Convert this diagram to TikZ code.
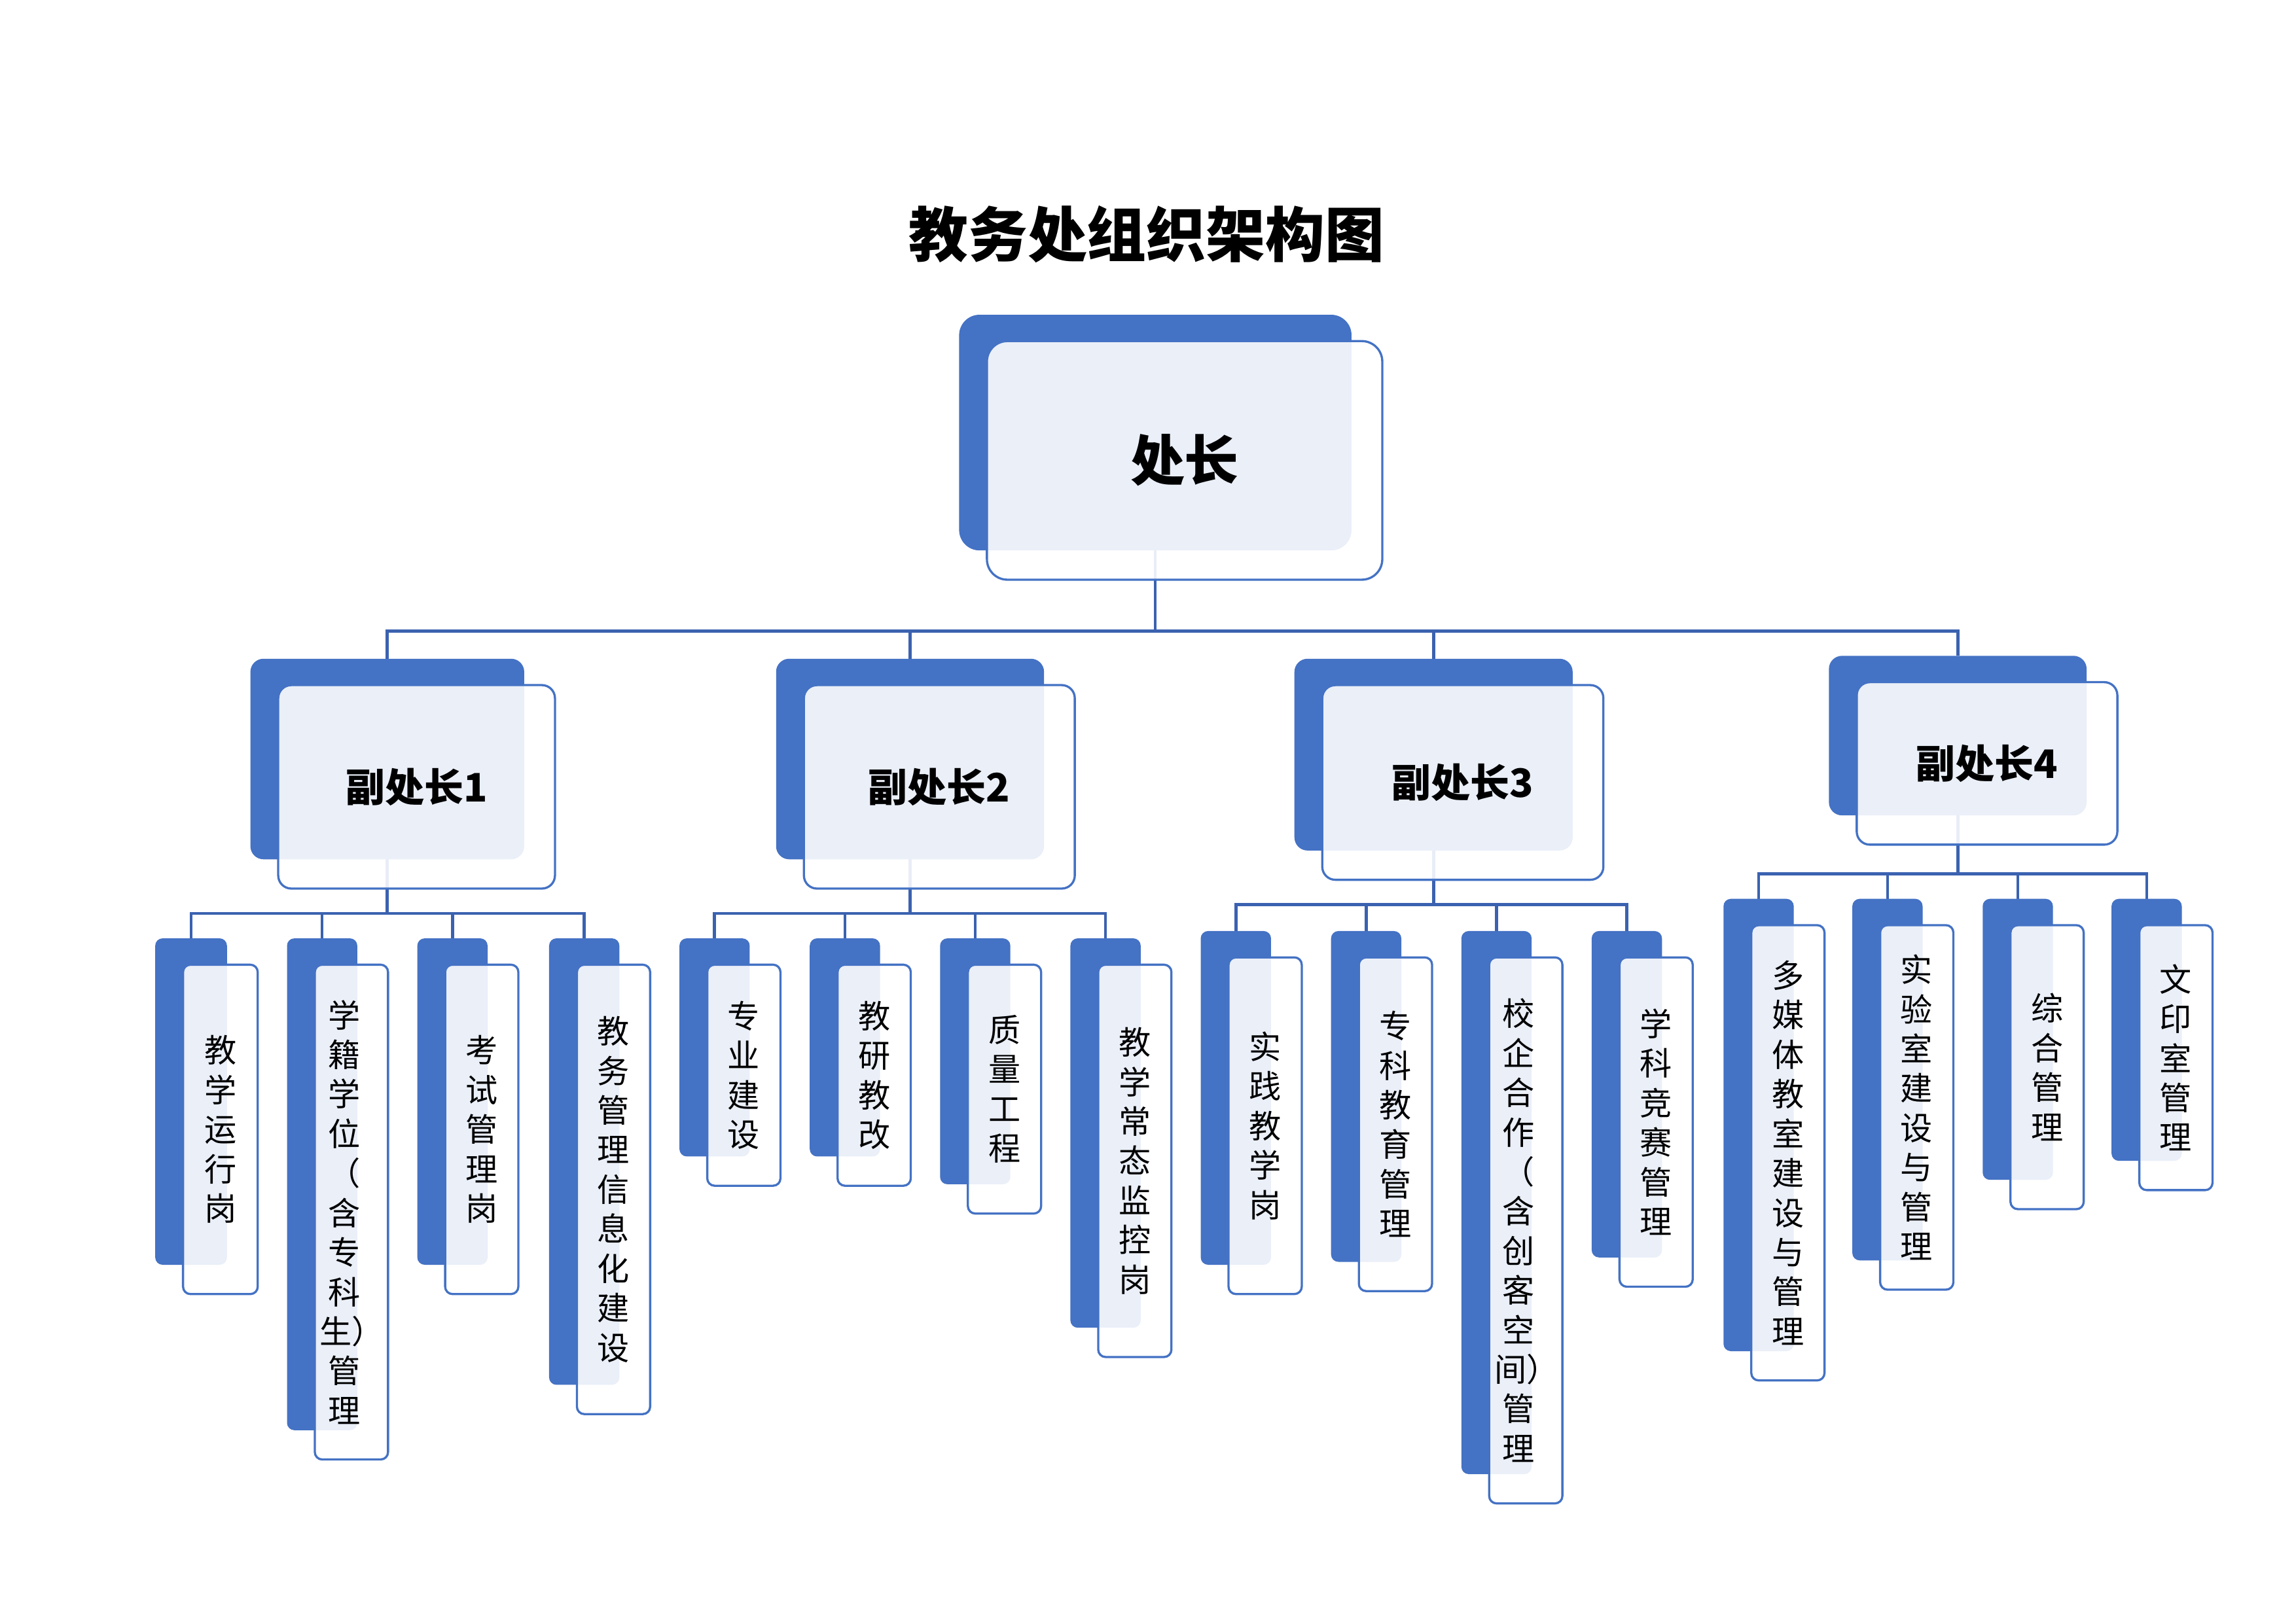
\documentclass[tikz,border=0pt]{standalone}
\usepackage{fontspec}
\newfontfamily\cjk{Noto Sans CJK SC}
\usetikzlibrary{fit}
\definecolor{boxblue}{RGB}{68,114,196}
\definecolor{linkblue}{RGB}{59,98,176}
\pgfdeclarelayer{back}
\pgfsetlayers{back,main}
\tikzset{
  bluebox/.style={fill=boxblue, draw=none, inner sep=0pt, outer sep=0pt},
  outbox/.style={fill=white, fill opacity=0.89, draw=boxblue, draw opacity=1, line width=0.8pt, inner sep=0pt, outer sep=0pt},
  conn/.style={draw=linkblue, line width=1.1pt},
  leaftext/.style={font=\cjk\fontsize{11.8}{14.5}\selectfont, align=center, inner sep=0pt, text=black},
  midtext/.style={font=\cjk\bfseries\fontsize{14.4}{17}\selectfont, inner sep=0pt, text=black},
  toptext/.style={font=\cjk\bfseries\fontsize{19.9}{23}\selectfont, inner sep=0pt, text=black},
  titletext/.style={font=\cjk\bfseries\fontsize{21.8}{26}\selectfont, inner sep=0pt, text=black}
}
% name, x1, y1, x2, y2 of the blue box, corner radius
\newcommand\orgbox[6]{%
  \node[bluebox, rounded corners=#6, fit={(#2,#3) (#4,#5)}] (#1b) {};
  \node[outbox, rounded corners=#6, fit={(#2+19,#3+18) (#4+21,#5+20)}] (#1) {};
}
\begin{document}
\begin{tikzpicture}[x=0.53697pt, y=-0.53697pt]
\useasboundingbox (0,0) rectangle (1568,1109);

\node[titletext] (title) at (783,160) {教务处组织架构图};

% top
\orgbox{top}{655}{215}{923}{376}{7.5pt}
\node[toptext] (topt) at (top.center) {处长};

% level 2
\orgbox{v1}{171}{450}{358}{587}{4.8pt}
\orgbox{v2}{530}{450}{713}{587}{4.8pt}
\orgbox{v3}{884}{450}{1074}{581}{4.8pt}
\orgbox{v4}{1249}{448}{1425}{557}{4.8pt}
\node[midtext] (v1t) at (v1.center) {副处长1};
\node[midtext] (v2t) at (v2.center) {副处长2};
\node[midtext] (v3t) at (v3.center) {副处长3};
\node[midtext] (v4t) at (v4.center) {副处长4};

% group 1
\orgbox{a1}{106}{641}{155}{864}{2.7pt}
\orgbox{a2}{196}{641}{244}{977}{2.7pt}
\orgbox{a3}{285}{641}{333}{864}{2.7pt}
\orgbox{a4}{375}{641}{423}{946}{2.7pt}
% group 2
\orgbox{b1}{464}{641}{512}{790}{2.7pt}
\orgbox{b2}{553}{641}{601}{790}{2.7pt}
\orgbox{b3}{642}{641}{690}{809}{2.7pt}
\orgbox{b4}{731}{641}{779}{907}{2.7pt}
% group 3
\orgbox{c1}{820}{636}{868}{864}{2.7pt}
\orgbox{c2}{909}{636}{957}{862}{2.7pt}
\orgbox{c3}{998}{636}{1046}{1007}{2.7pt}
\orgbox{c4}{1087}{636}{1135}{859}{2.7pt}
% group 4
\orgbox{d1}{1177}{614}{1225}{923}{2.7pt}
\orgbox{d2}{1265}{614}{1313}{861}{2.7pt}
\orgbox{d3}{1354}{614}{1402}{806}{2.7pt}
\orgbox{d4}{1442}{614}{1490}{793}{2.7pt}

\node[leaftext] (a1t) at (a1.center) {教\\学\\运\\行\\岗};
\node[leaftext] (a2t) at ([xshift=-2.7pt]a2.center) {学\\籍\\学\\位\\（\\含\\专\\科\\生\makebox[0.5em][l]{）}\\管\\理};
\node[leaftext] (a3t) at (a3.center) {考\\试\\管\\理\\岗};
\node[leaftext] (a4t) at (a4.center) {教\\务\\管\\理\\信\\息\\化\\建\\设};
\node[leaftext] (b1t) at (b1.center) {专\\业\\建\\设};
\node[leaftext] (b2t) at (b2.center) {教\\研\\教\\改};
\node[leaftext] (b3t) at (b3.center) {质\\量\\工\\程};
\node[leaftext] (b4t) at (b4.center) {教\\学\\常\\态\\监\\控\\岗};
\node[leaftext] (c1t) at (c1.center) {实\\践\\教\\学\\岗};
\node[leaftext] (c2t) at (c2.center) {专\\科\\教\\育\\管\\理};
\node[leaftext] (c3t) at ([xshift=-2.7pt]c3.center) {校\\企\\合\\作\\（\\含\\创\\客\\空\\间\makebox[0.5em][l]{）}\\管\\理};
\node[leaftext] (c4t) at (c4.center) {学\\科\\竞\\赛\\管\\理};
\node[leaftext] (d1t) at (d1.center) {多\\媒\\体\\教\\室\\建\\设\\与\\管\\理};
\node[leaftext] (d2t) at (d2.center) {实\\验\\室\\建\\设\\与\\管\\理};
\node[leaftext] (d3t) at (d3.center) {综\\合\\管\\理};
\node[leaftext] (d4t) at (d4.center) {文\\印\\室\\管\\理};

% bars
\coordinate (barT) at (0,431);
\coordinate (bar1) at (0,624);
\coordinate (bar2) at (0,624);
\coordinate (bar3) at (0,618);
\coordinate (bar4) at (0,597);

\begin{pgfonlayer}{back}
  \foreach \v in {v1,v2,v3,v4}
    \draw[conn] (topb.south) -- (topb.south |- barT) -| (\v b.north);
  \foreach \c in {a1,a2,a3,a4}
    \draw[conn] (v1b.south) -- (v1b.south |- bar1) -| (\c b.north);
  \foreach \c in {b1,b2,b3,b4}
    \draw[conn] (v2b.south) -- (v2b.south |- bar2) -| (\c b.north);
  \foreach \c in {c1,c2,c3,c4}
    \draw[conn] (v3b.south) -- (v3b.south |- bar3) -| (\c b.north);
  \foreach \c in {d1,d2,d3,d4}
    \draw[conn] (v4b.south) -- (v4b.south |- bar4) -| (\c b.north);
\end{pgfonlayer}
\end{tikzpicture}
\end{document}
